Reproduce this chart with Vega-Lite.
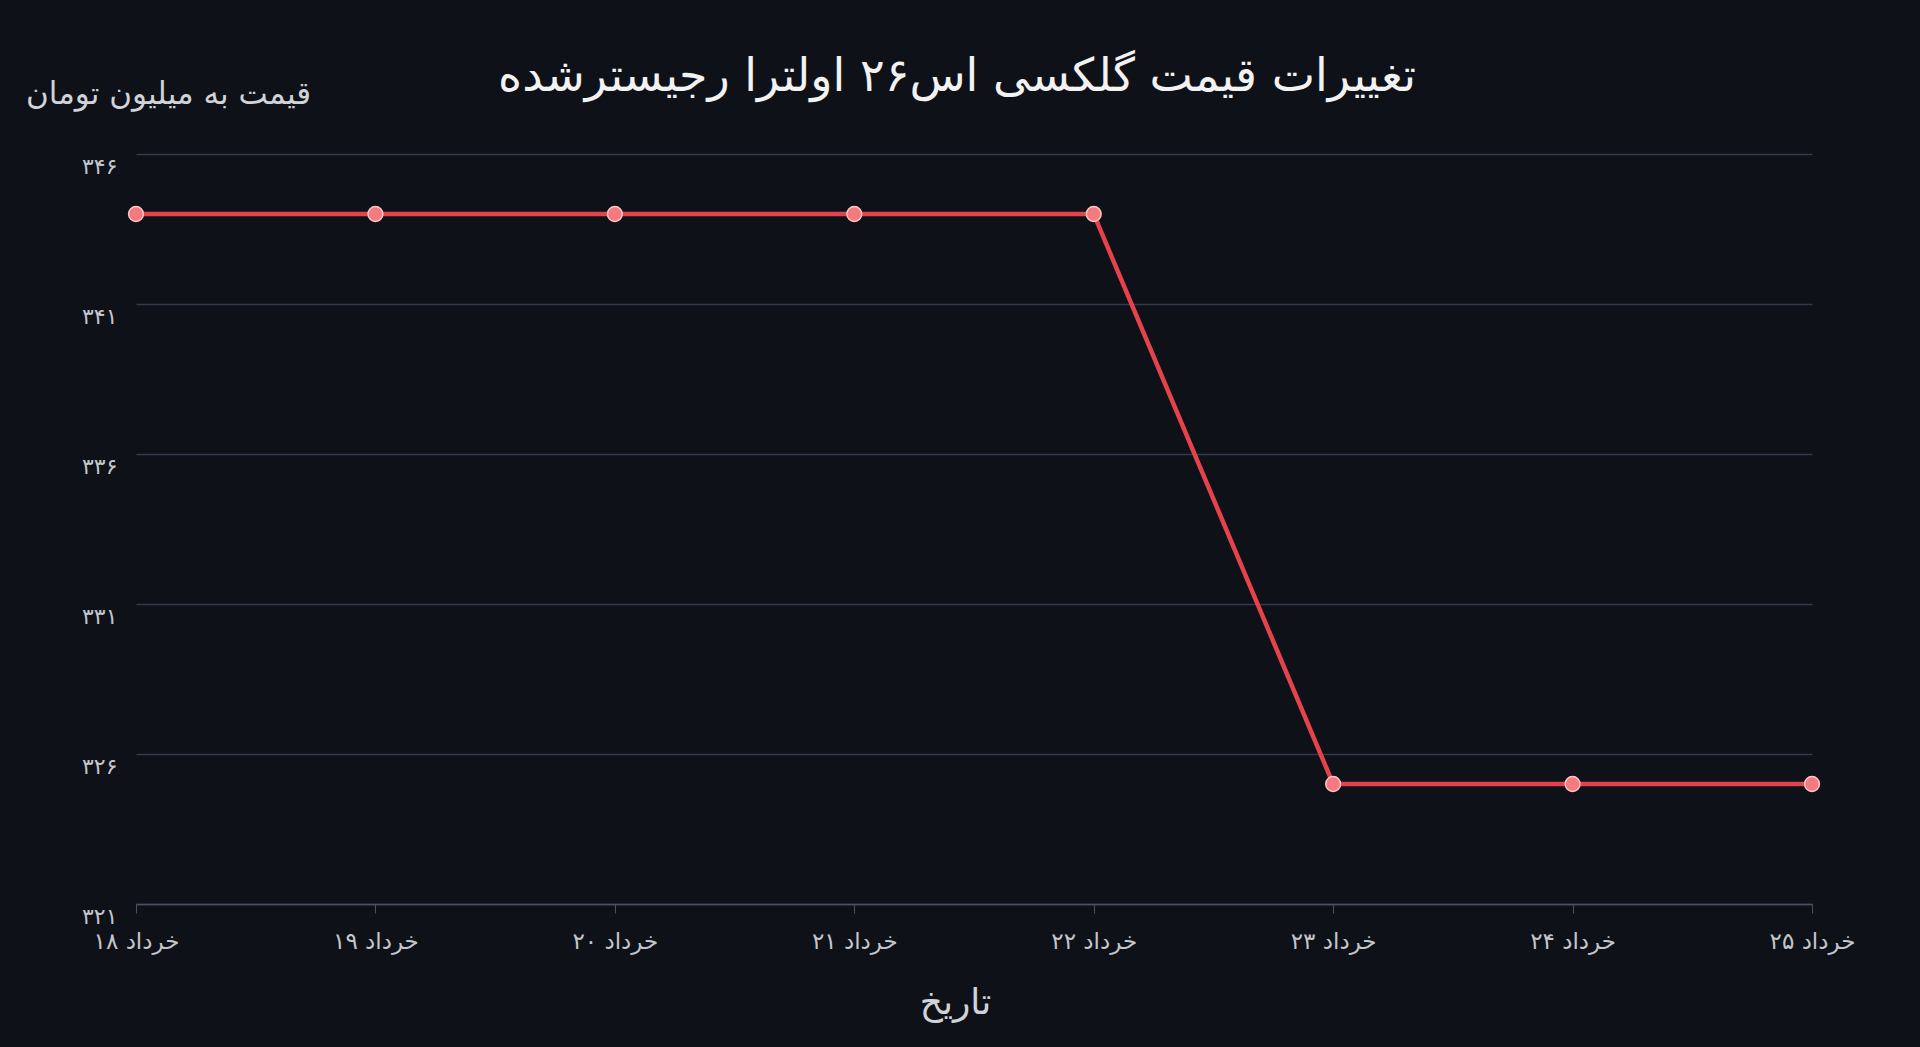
{
  "$schema": "https://vega.github.io/schema/vega-lite/v6.json",
  "autosize": "none",
  "width": 1676,
  "height": 750,
  "padding": {"left": 136, "top": 154, "right": 108, "bottom": 143},
  "background": "#0e1117",
  "title": {
    "text": "تغییرات قیمت گلکسی اس۲۶ اولترا رجیسترشده",
    "font": "DejaVu Sans",
    "fontSize": 46,
    "fontWeight": "normal",
    "color": "#f2f2f2",
    "anchor": "middle",
    "baseline": "alphabetic",
    "dx": -17,
    "offset": -59
  },
  "config": {
    "view": {"stroke": null},
    "font": "DejaVu Sans"
  },
  "data": {
    "values": [
      {"date": "۱۸ خرداد", "price": 344},
      {"date": "۱۹ خرداد", "price": 344},
      {"date": "۲۰ خرداد", "price": 344},
      {"date": "۲۱ خرداد", "price": 344},
      {"date": "۲۲ خرداد", "price": 344},
      {"date": "۲۳ خرداد", "price": 325},
      {"date": "۲۴ خرداد", "price": 325},
      {"date": "۲۵ خرداد", "price": 325}
    ]
  },
  "encoding": {
    "x": {
      "field": "date",
      "type": "ordinal",
      "sort": null,
      "scale": {"type": "point", "padding": 0},
      "axis": {
        "title": "تاریخ",
        "titleFont": "DejaVu Sans",
        "titleFontSize": 36,
        "titleFontWeight": "normal",
        "titleColor": "#d0d3d8",
        "titleX": 819,
        "titleY": 98,
        "titleAlign": "center",
        "titleBaseline": "middle",
        "labelAngle": 0,
        "labelFontSize": 23,
        "labelColor": "#c3c6cc",
        "labelPadding": 17,
        "tickSize": 9,
        "tickColor": "#4a5062",
        "domainColor": "#4a5062",
        "domainWidth": 1.5,
        "grid": false
      }
    },
    "y": {
      "field": "price",
      "type": "quantitative",
      "scale": {"domain": [321, 346], "nice": false, "zero": false},
      "axis": {
        "values": [321, 326, 331, 336, 341, 346],
        "labelExpr": "replace(replace(replace(replace(replace(replace(replace(replace(replace(replace(datum.label, regexp('0','g'), '۰'), regexp('1','g'), '۱'), regexp('2','g'), '۲'), regexp('3','g'), '۳'), regexp('4','g'), '۴'), regexp('5','g'), '۵'), regexp('6','g'), '۶'), regexp('7','g'), '۷'), regexp('8','g'), '۸'), regexp('9','g'), '۹')",
        "title": "قیمت به میلیون تومان",
        "titleFont": "DejaVu Sans",
        "titleFontSize": 31,
        "titleFontWeight": "normal",
        "titleColor": "#d0d3d8",
        "titleAngle": 0,
        "titleX": 32,
        "titleY": -60,
        "titleAlign": "center",
        "titleBaseline": "middle",
        "labelFontSize": 22,
        "labelColor": "#c3c6cc",
        "labelPadding": 19,
        "labelOffset": 12,
        "ticks": false,
        "domain": false,
        "grid": true,
        "gridColor": "#333b4c",
        "gridWidth": 1.3
      }
    }
  },
  "layer": [
    {
      "mark": {"type": "line", "color": "#e5434b", "strokeWidth": 4.5}
    },
    {
      "mark": {"type": "point", "filled": true, "fill": "#f47a7f", "stroke": "#ffc4c6", "strokeWidth": 1.5, "size": 220, "opacity": 1}
    }
  ]
}
